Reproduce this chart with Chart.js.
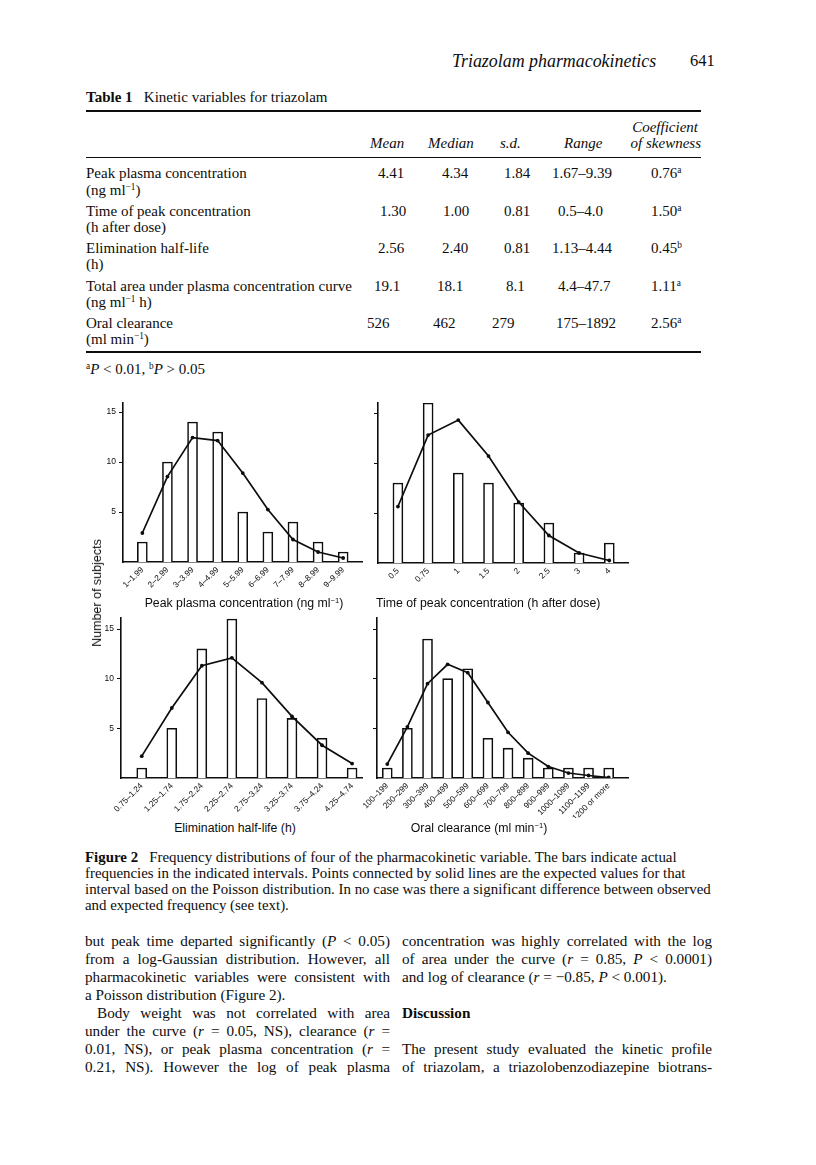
<!DOCTYPE html>
<html lang="en">
<head>
<meta charset="UTF-8">
<title>Triazolam pharmacokinetics</title>
<script src="https://cdn.jsdelivr.net/npm/chart.js@4.4.1/dist/chart.umd.min.js"></script>
<style>
    html, body { margin: 0; padding: 0; background: #fff; }
    body { width: 816px; height: 1165px; position: relative; overflow: hidden;
           font-family: "Liberation Serif", "Times New Roman", serif; color: #0d0d0d; }
    .t { position: absolute; white-space: nowrap; line-height: 16px; }
    .tab { font-size: 15px; }
    .hd { font-style: italic; }
    .rule { position: absolute; left: 86px; width: 615px; background: #0d0d0d; }
    sup { font-size: 0.62em; line-height: 0; vertical-align: 0.5em; }
    .sans { font-family: "Liberation Sans", Arial, sans-serif; font-size: 12.3px; }
    .cap { font-size: 14.9px; left: 85px; }
    .body { font-size: 15.2px; line-height: 18px; }
    .just { text-align: justify; text-align-last: justify; white-space: normal; }
    canvas { position: absolute; }
</style>
</head>
<body>
<div class="t" style="left:452px; top:51px; font-size:17.9px; font-style:italic; line-height:20px;">Triazolam pharmacokinetics</div>
<div class="t" style="left:690px; top:51px; font-size:16.5px; line-height:20px;">641</div>

<div class="t tab" style="left:86px; top:89px;"><b>Table 1</b>&nbsp;&nbsp;&nbsp;Kinetic variables for triazolam</div>
<div class="rule" style="top:110px; height:1.5px;"></div>
<div class="t tab hd" style="right:118px; top:119px; text-align:right;">Coefficient</div>
<div class="t tab hd" style="left:370px; top:135px;">Mean</div>
<div class="t tab hd" style="left:428px; top:135px;">Median</div>
<div class="t tab hd" style="left:500px; top:135px;">s.d.</div>
<div class="t tab hd" style="left:564px; top:135px;">Range</div>
<div class="t tab hd" style="right:115px; top:135px;">of skewness</div>
<div class="rule" style="top:157px; height:1px;"></div>

<div class="t tab" style="left:86px; top:165px;">Peak plasma concentration</div>
<div class="t tab" style="left:86px; top:182px;">(ng ml<sup>−1</sup>)</div>
<div class="t tab" style="left:378px; top:165px;">4.41</div>
<div class="t tab" style="left:442px; top:165px;">4.34</div>
<div class="t tab" style="left:504px; top:165px;">1.84</div>
<div class="t tab" style="left:552px; top:165px;">1.67–9.39</div>
<div class="t tab" style="left:651px; top:165px;">0.76<sup>a</sup></div>

<div class="t tab" style="left:86px; top:203px;">Time of peak concentration</div>
<div class="t tab" style="left:86px; top:219px;">(h after dose)</div>
<div class="t tab" style="left:380px; top:203px;">1.30</div>
<div class="t tab" style="left:443px; top:203px;">1.00</div>
<div class="t tab" style="left:504px; top:203px;">0.81</div>
<div class="t tab" style="left:558px; top:203px;">0.5–4.0</div>
<div class="t tab" style="left:651px; top:203px;">1.50<sup>a</sup></div>

<div class="t tab" style="left:86px; top:240px;">Elimination half-life</div>
<div class="t tab" style="left:86px; top:256px;">(h)</div>
<div class="t tab" style="left:378px; top:240px;">2.56</div>
<div class="t tab" style="left:442px; top:240px;">2.40</div>
<div class="t tab" style="left:504px; top:240px;">0.81</div>
<div class="t tab" style="left:552px; top:240px;">1.13–4.44</div>
<div class="t tab" style="left:651px; top:240px;">0.45<sup>b</sup></div>

<div class="t tab" style="left:86px; top:278px;">Total area under plasma concentration curve</div>
<div class="t tab" style="left:86px; top:294px;">(ng ml<sup>−1</sup> h)</div>
<div class="t tab" style="left:374px; top:278px;">19.1</div>
<div class="t tab" style="left:437px; top:278px;">18.1</div>
<div class="t tab" style="left:506px; top:278px;">8.1</div>
<div class="t tab" style="left:558px; top:278px;">4.4–47.7</div>
<div class="t tab" style="left:651px; top:278px;">1.11<sup>a</sup></div>

<div class="t tab" style="left:86px; top:315px;">Oral clearance</div>
<div class="t tab" style="left:86px; top:331px;">(ml min<sup>−1</sup>)</div>
<div class="t tab" style="left:367px; top:315px;">526</div>
<div class="t tab" style="left:433px; top:315px;">462</div>
<div class="t tab" style="left:492px; top:315px;">279</div>
<div class="t tab" style="left:556px; top:315px;">175–1892</div>
<div class="t tab" style="left:651px; top:315px;">2.56<sup>a</sup></div>
<div class="rule" style="top:351px; height:1.5px;"></div>
<div class="t tab" style="left:86px; top:361px;"><sup>a</sup><i>P</i> &lt; 0.01, <sup>b</sup><i>P</i> &gt; 0.05</div>

<!-- figure 2: four histograms -->
<canvas id="peakChart" width="284" height="207" style="left:83px; top:395px;"></canvas>
<canvas id="tmaxChart" width="295" height="208" style="left:338px; top:395px;"></canvas>
<canvas id="halfLifeChart" width="286" height="208" style="left:81px; top:610px;"></canvas>
<canvas id="clearanceChart" width="296" height="208" style="left:337px; top:610px;"></canvas>

<div class="t sans" style="left:97px; top:593px; font-size:12.5px; transform:translate(-50%,-50%) rotate(-90deg);">Number of subjects</div>
<div class="t sans" style="left:244px; top:595px; transform:translateX(-50%);">Peak plasma concentration (ng ml<sup>−1</sup>)</div>
<div class="t sans" style="left:376px; top:595px;">Time of peak concentration (h after dose)</div>
<div class="t sans" style="left:235px; top:820px; transform:translateX(-50%);">Elimination half-life (h)</div>
<div class="t sans" style="left:479px; top:820px; transform:translateX(-50%);">Oral clearance (ml min<sup>−1</sup>)</div>

<div class="t cap" style="top:849px;"><b>Figure 2</b>&nbsp;&nbsp;&nbsp;Frequency distributions of four of the pharmacokinetic variable. The bars indicate actual</div>
<div class="t cap" style="top:865px;">frequencies in the indicated intervals. Points connected by solid lines are the expected values for that</div>
<div class="t cap" style="top:881px;">interval based on the Poisson distribution. In no case was there a significant difference between observed</div>
<div class="t cap" style="top:897px;">and expected frequency (see text).</div>

<div class="t body just" style="left:85px; width:305px; top:932px;">but peak time departed significantly (<i>P</i> &lt; 0.05)</div>
<div class="t body just" style="left:85px; width:305px; top:950px;">from a log-Gaussian distribution. However, all</div>
<div class="t body just" style="left:85px; width:305px; top:968px;">pharmacokinetic variables were consistent with</div>
<div class="t body" style="left:85px; top:986px;">a Poisson distribution (Figure 2).</div>
<div class="t body just" style="left:97px; width:293px; top:1004px;">Body weight was not correlated with area</div>
<div class="t body just" style="left:85px; width:305px; top:1022px;">under the curve (<i>r</i> = 0.05, NS), clearance (<i>r</i> =</div>
<div class="t body just" style="left:85px; width:305px; top:1040px;">0.01, NS), or peak plasma concentration (<i>r</i> =</div>
<div class="t body just" style="left:85px; width:305px; top:1058px;">0.21, NS). However the log of peak plasma</div>

<div class="t body just" style="left:402px; width:310px; top:932px;">concentration was highly correlated with the log</div>
<div class="t body just" style="left:402px; width:310px; top:950px;">of area under the curve (<i>r</i> = 0.85, <i>P</i> &lt; 0.0001)</div>
<div class="t body" style="left:402px; top:968px;">and log of clearance (<i>r</i> = −0.85, <i>P</i> &lt; 0.001).</div>
<div class="t body" style="left:402px; top:1004px;"><b>Discussion</b></div>
<div class="t body just" style="left:402px; width:310px; top:1040px;">The present study evaluated the kinetic profile</div>
<div class="t body just" style="left:402px; width:310px; top:1058px;">of triazolam, a triazolobenzodiazepine biotrans-</div>

<script>
    // observed counts (bars) and Poisson expected values (points)
    const peakLabels = ['1–1.99', '2–2.99', '3–3.99', '4–4.99', '5–5.99', '6–6.99', '7–7.99', '8–8.99', '9–9.99'];
    const peakObserved = [2, 10, 14, 13, 5, 3, 4, 2, 1];
    const peakExpected = [2.9, 8.55, 12.45, 12.15, 8.9, 5.25, 2.25, 1.0, 0.4];

    const tmaxLabels = ['0.5', '0.75', '1', '1.5', '2', '2.5', '3', '4'];
    const tmaxObserved = [8, 16, 9, 8, 6, 4, 1, 2];
    const tmaxExpected = [5.65, 12.8, 14.3, 10.7, 6.1, 2.75, 1.0, 0.25];

    const halfLifeLabels = ['0.75–1.24', '1.25–1.74', '1.75–2.24', '2.25–2.74', '2.75–3.24', '3.25–3.74', '3.75–4.24', '4.25–4.74'];
    const halfLifeObserved = [1, 5, 13, 16, 8, 6, 4, 1];
    const halfLifeExpected = [2.2, 7.05, 11.3, 12.1, 9.6, 6.2, 3.3, 1.45];

    const clearanceLabels = ['100–199', '200–299', '300–399', '400–499', '500–599', '600–699', '700–799', '800–899', '900–999', '1000–1099', '1100–1199', '1200 or more'];
    const clearanceObserved = [1, 5, 14, 10, 11, 4, 3, 2, 1, 1, 1, 1];
    const clearanceExpected = [1.4, 5.15, 9.5, 11.45, 10.6, 7.6, 4.6, 2.5, 1.15, 0.5, 0.25, 0.05];

    const yTicks = [5, 10, 15];
    const ink = '#0d0d0d';

    Chart.defaults.font.family = '"Liberation Sans", Arial, sans-serif';
    Chart.defaults.color = ink;

    // bar = observed, line = expected; x is linear so the empty margins left/right of the bars can be set
    function histogram(id, labels, observed, expected, xMin, xMax, yMax, showYLabels) {
        return new Chart(document.getElementById(id), {
            type: 'bar',
            data: {
                datasets: [
                    {
                        type: 'line',
                        data: expected.map((v, i) => ({ x: i + 1, y: v })),
                        borderColor: ink, borderWidth: 1.7, tension: 0,
                        pointRadius: 1.9, pointBackgroundColor: ink, pointBorderWidth: 0
                    },
                    {
                        data: observed.map((v, i) => ({ x: i + 1, y: v })),
                        backgroundColor: '#fff', borderColor: ink, borderWidth: 1.6,
                        barThickness: 10
                    }
                ]
            },
            options: {
                responsive: false,
                animation: false,
                events: [],
                layout: { padding: { top: 7, right: 5, left: 0, bottom: 0 } },
                plugins: { legend: { display: false }, tooltip: { enabled: false } },
                scales: {
                    x: {
                        type: 'linear', min: xMin, max: xMax, offset: false,
                        grid: { display: false, drawTicks: false },
                        border: { color: ink, width: 1.6 },
                        afterBuildTicks: s => { s.ticks = labels.map((l, i) => ({ value: i + 1 })); },
                        afterFit: s => { s.height = 40; },
                        ticks: {
                            autoSkip: false, minRotation: 45, maxRotation: 45, padding: 3,
                            font: { size: 8.3 },
                            callback: v => labels[v - 1]
                        }
                    },
                    y: {
                        min: 0, max: yMax,
                        afterBuildTicks: s => { s.ticks = yTicks.map(v => ({ value: v })); },
                        afterFit: s => { s.width = 40; },
                        grid: { drawOnChartArea: false, tickLength: 4, color: ink, lineWidth: 1 },
                        border: { color: ink, width: 1.6 },
                        ticks: {
                            padding: 3, font: { size: 8.5 },
                            callback: v => showYLabels ? String(v) : ''
                        }
                    }
                }
            }
        });
    }

    histogram('peakChart', peakLabels, peakObserved, peakExpected, 0.23, 9.75, 15.9, true);
    histogram('tmaxChart', tmaxLabels, tmaxObserved, tmaxExpected, 0.34, 8.62, 16, false);
    histogram('halfLifeChart', halfLifeLabels, halfLifeObserved, halfLifeExpected, 0.31, 8.33, 16.1, true);
    histogram('clearanceChart', clearanceLabels, clearanceObserved, clearanceExpected, 0.49, 12.96, 16.1, false);
</script>
</body>
</html>
